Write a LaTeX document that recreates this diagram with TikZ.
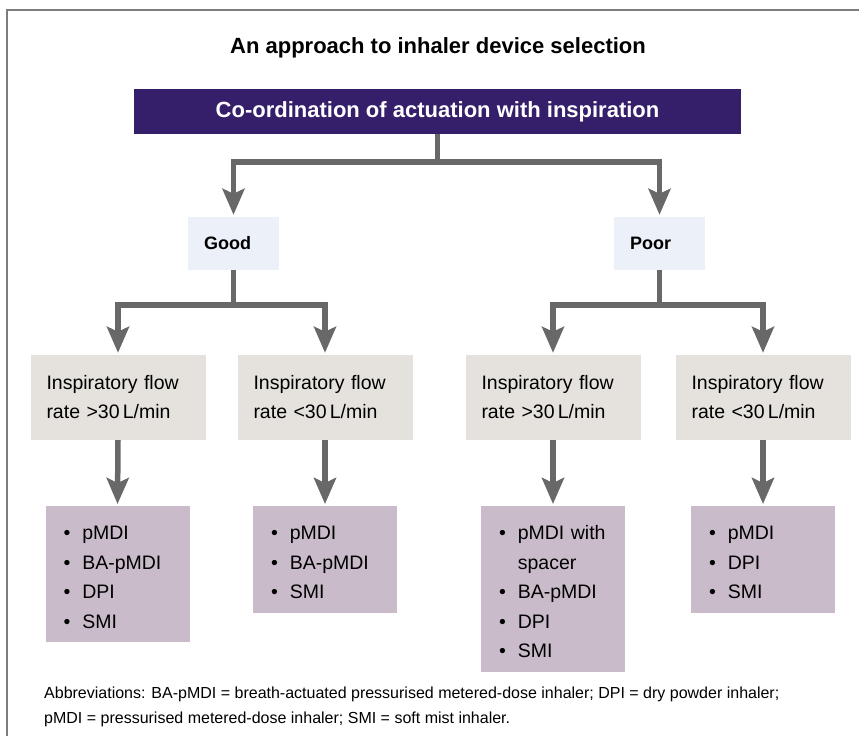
\documentclass[tikz,border=0pt]{standalone}
\usepackage{fontspec}
\setmainfont{Liberation Sans}
\usetikzlibrary{arrows.meta,positioning}
\definecolor{headpurple}{RGB}{53,31,107}
\definecolor{choicefill}{RGB}{236,240,248}
\definecolor{flowfill}{RGB}{229,225,221}
\definecolor{devicefill}{RGB}{201,187,202}
\definecolor{arrowgrey}{RGB}{104,104,104}
\definecolor{framegrey}{RGB}{125,125,125}
\begin{document}
\begin{tikzpicture}[x=1pt,y=-1pt,
		arr/.style={color=arrowgrey, line width=5.5pt, -{Stealth[length=26pt,width=22pt,inset=5pt]}, shorten >=2pt},
		choice/.style={fill=choicefill, text width=59pt, inner xsep=16pt, inner ysep=0pt, minimum height=53pt, align=left, font=\bfseries\fontsize{18}{22}\selectfont},
		flow/.style={fill=flowfill, text width=143pt, inner xsep=16pt, inner ysep=0pt, minimum height=85pt, align=left, font=\fontsize{19.5}{29}\selectfont},
		device/.style={fill=devicefill, anchor=north, text width=108pt, inner xsep=18pt, inner ysep=9pt, align=left, font=\fontsize{19.5}{29.5}\selectfont}]
	\useasboundingbox (0,0) rectangle (859,736);
	\draw [framegrey, line width=2pt] (859,10) -- (7,10) -- (7,736);

	\node (title) [font=\bfseries\fontsize{22}{26}\selectfont] at (438,48) {An approach to inhaler device selection};
	\node (coord) [fill=headpurple, text=white, minimum width=607pt, minimum height=45pt, inner sep=0pt, font=\bfseries\fontsize{22}{26}\selectfont] at (437.5,111.5) {Co-ordination of actuation with inspiration};

	\node (good) [choice] at (233.5,243.5) {Good};
	\node (poor) [choice] at (659.5,243.5) {Poor};

	\node (flowA) [flow] at (118,397.5) {Inspiratory flow\\rate >30\,L/min};
	\node (flowB) [flow] at (325,397.5) {Inspiratory flow\\rate <30\,L/min};
	\node (flowC) [flow] at (553,397.5) {Inspiratory flow\\rate >30\,L/min};
	\node (flowD) [flow] at (763,397.5) {Inspiratory flow\\rate <30\,L/min};

	\node (devA) [device] at (117.5,506) {\raisebox{-4pt}[\height][\depth]{\begin{tabular}{@{}l@{\hspace{12pt}}l@{}}
			\textbullet & pMDI\\
			\textbullet & BA-pMDI\\
			\textbullet & DPI\\
			\textbullet & SMI
		\end{tabular}}};
	\node (devB) [device] at (325,506) {\raisebox{-4pt}[\height][\depth]{\begin{tabular}{@{}l@{\hspace{12pt}}l@{}}
			\textbullet & pMDI\\
			\textbullet & BA-pMDI\\
			\textbullet & SMI
		\end{tabular}}};
	\node (devC) [device] at (553,506) {\raisebox{-4pt}[\height][\depth]{\begin{tabular}{@{}l@{\hspace{12pt}}l@{}}
			\textbullet & pMDI with\\
			 & spacer\\
			\textbullet & BA-pMDI\\
			\textbullet & DPI\\
			\textbullet & SMI
		\end{tabular}}};
	\node (devD) [device] at (763,506) {\raisebox{-4pt}[\height][\depth]{\begin{tabular}{@{}l@{\hspace{12pt}}l@{}}
			\textbullet & pMDI\\
			\textbullet & DPI\\
			\textbullet & SMI
		\end{tabular}}};

	\draw [arr] (coord.south) -- ++(0,28) -| (good.north);
	\draw [arr] (coord.south) -- ++(0,28) -| (poor.north);
	\draw [arr] (good.south) -- ++(0,35) -| (flowA.north);
	\draw [arr] (good.south) -- ++(0,35) -| (flowB.north);
	\draw [arr] (poor.south) -- ++(0,35) -| (flowC.north);
	\draw [arr] (poor.south) -- ++(0,35) -| (flowD.north);
	\draw [arr] (flowA.south) -- (devA.north);
	\draw [arr] (flowB.south) -- (devB.north);
	\draw [arr] (flowC.south) -- (devC.north);
	\draw [arr] (flowD.south) -- (devD.north);

	\node (abbr) [anchor=north west, align=left, inner sep=0pt, font=\fontsize{16}{25}\selectfont] at (44,687) {Abbreviations: BA-pMDI = breath-actuated pressurised metered-dose inhaler; DPI = dry powder inhaler;\\pMDI = pressurised metered-dose inhaler; SMI = soft mist inhaler.};
\end{tikzpicture}
\end{document}
